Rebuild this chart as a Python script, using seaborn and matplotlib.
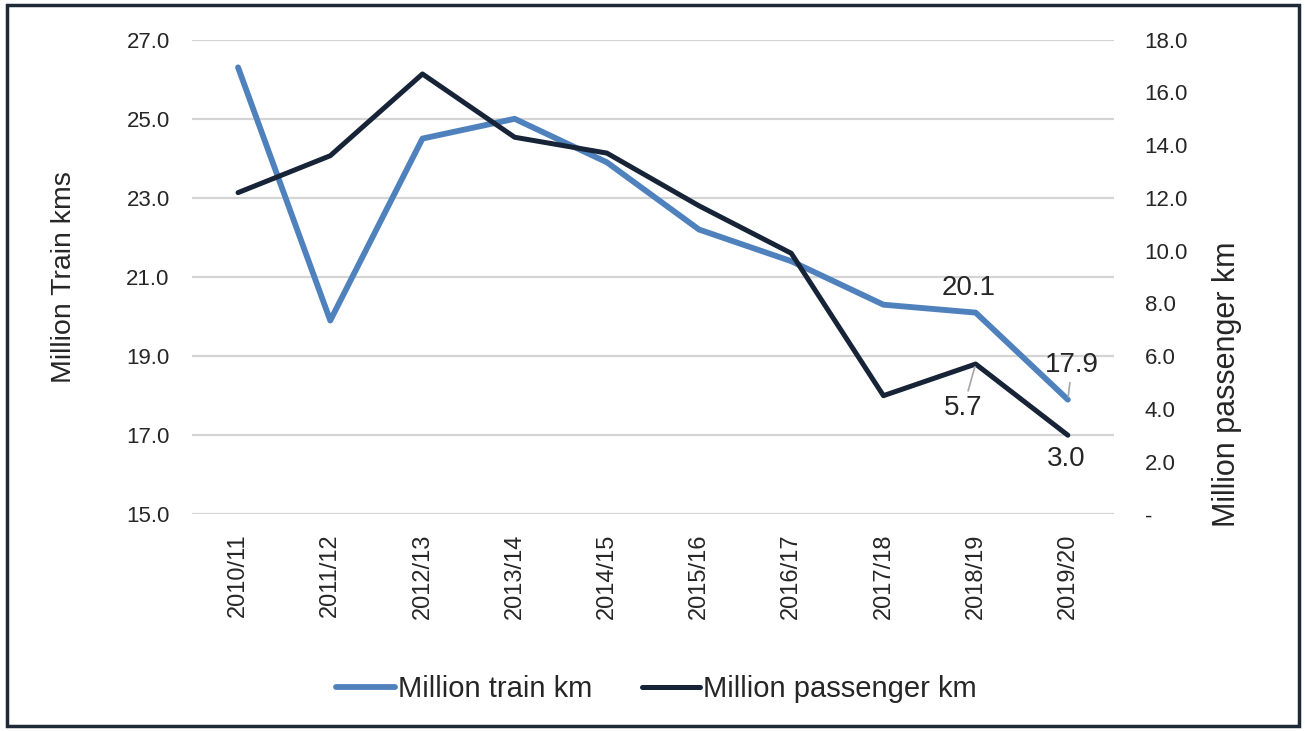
"""Rail traffic: million train km vs million passenger km, 2010/11 - 2019/20."""

import matplotlib

matplotlib.use("Agg")

import matplotlib.pyplot as plt  # noqa: E402
import pandas as pd  # noqa: E402
import seaborn as sns  # noqa: E402
from matplotlib.patches import Rectangle  # noqa: E402
from matplotlib.ticker import FuncFormatter  # noqa: E402

years = ["2010/11", "2011/12", "2012/13", "2013/14", "2014/15",
         "2015/16", "2016/17", "2017/18", "2018/19", "2019/20"]
train_km = [26.3, 19.9, 24.5, 25.0, 23.9, 22.2, 21.4, 20.3, 20.1, 17.9]
passenger_km = [12.2, 13.6, 16.7, 14.3, 13.7, 11.7, 9.9, 4.5, 5.7, 3.0]

LIGHT = "#4F81BD"
DARK = "#172337"
FS = 16

sns.set_style("white")
plt.rcParams["font.family"] = ["Liberation Sans", "DejaVu Sans"]

df = pd.DataFrame({"year": years, "train": train_km, "passenger": passenger_km})
df["pos"] = range(len(df))

fig = plt.figure(figsize=(13.05, 7.31), dpi=100)
ax = fig.add_axes([0.1471, 0.2964, 0.7065, 0.6493])
ax2 = ax.twinx()

sns.lineplot(data=df, x="pos", y="train", color=LIGHT, lw=4.2, ax=ax,
             label="Million train km", legend=False)
sns.lineplot(data=df, x="pos", y="passenger", color=DARK, lw=3.6, ax=ax2,
             label="Million passenger km", legend=False)

ax.set_xlim(-0.5, len(years) - 0.5)
ax.set_ylim(15, 27)
ax2.set_ylim(0, 18)
ax.set_yticks(range(15, 28, 2))
ax2.set_yticks(range(0, 19, 2))
ax.yaxis.set_major_formatter(FuncFormatter(lambda v, _: f"{v:.1f}"))
ax2.yaxis.set_major_formatter(FuncFormatter(lambda v, _: "-" if abs(v) < 1e-9 else f"{v:.1f}"))

ax.set_xticks(df["pos"])
ax.set_xticklabels(years, rotation=90, fontsize=17)
ax.tick_params(axis="x", length=0, pad=14)
ax.tick_params(axis="y", length=0, pad=16, labelsize=FS)
ax2.tick_params(axis="y", length=0, pad=22, labelsize=FS)

ax.grid(axis="y", color="#d4d4d4", lw=1.6)
ax.set_axisbelow(True)
for a in (ax, ax2):
    for s in a.spines.values():
        s.set_visible(False)

ax.set_xlabel("")
ax.set_ylabel("Million Train kms", fontsize=20.5)
ax.yaxis.set_label_coords(-0.125, 0.5)
ax2.set_ylabel("Million passenger km", fontsize=22)
ax2.yaxis.set_label_coords(1.106, 0.275)

# data labels for the last two years
last, prev = len(years) - 1, len(years) - 2
LFS = 20
arrow = dict(arrowstyle="-", color="#a6a6a6", lw=1.2, shrinkA=1, shrinkB=2)
ax.annotate(f"{train_km[prev]:.1f}", (prev, train_km[prev]), xytext=(-5, 18),
            textcoords="offset points", ha="center", va="center", fontsize=LFS)
ax.annotate(f"{train_km[last]:.1f}", (last, train_km[last]), xytext=(3, 25),
            textcoords="offset points", ha="center", va="center", fontsize=LFS,
            arrowprops=arrow)
ax2.annotate(f"{passenger_km[prev]:.1f}", (prev, passenger_km[prev]), xytext=(-9, -32),
             textcoords="offset points", ha="center", va="center", fontsize=LFS,
             arrowprops=arrow)
ax2.annotate(f"{passenger_km[last]:.1f}", (last, passenger_km[last]), xytext=(-1.5, -17),
             textcoords="offset points", ha="center", va="center", fontsize=LFS)

h1, l1 = ax.get_legend_handles_labels()
h2, l2 = ax2.get_legend_handles_labels()
fig.legend(h1 + h2, l1 + l2, loc="center", bbox_to_anchor=(0.503, 0.057), ncol=2,
           frameon=False, fontsize=21, handlelength=2.0, handletextpad=0.1,
           columnspacing=1.7)

fig.patches.append(Rectangle((7 / 1305, 5 / 731), 1292 / 1305, 721 / 731,
                             transform=fig.transFigure, fill=False,
                             edgecolor="#1f2a38", lw=2.5))

fig.savefig("out.png", dpi=100, facecolor="white")
